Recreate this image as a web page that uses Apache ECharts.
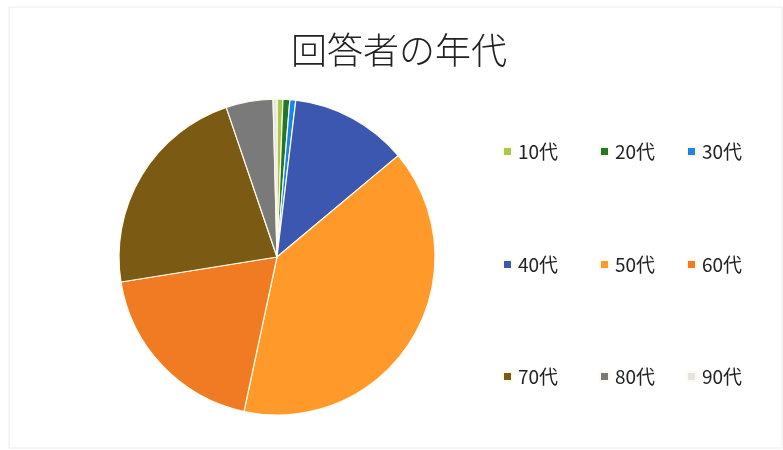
<!DOCTYPE html>
<html>
<head>
<meta charset="utf-8">
<script src="https://cdn.jsdelivr.net/npm/echarts@6/dist/echarts.min.js"></script>
<style>
html,body{margin:0;padding:0;background:#fff;}
#main{width:783px;height:450px;}
</style>
</head>
<body>
<div id="main"></div>
<script>
const titleText = '回答者の年代';
const categories = ['10代','20代','30代','40代','50代','60代','70代','80代','90代'];
const values = [0.6, 0.7, 0.6, 12.0, 39.4, 19.1, 22.3, 4.8, 0.4];
const colors = ['#a9c94e','#22782a','#1a85e6','#3b57b0','#ff9a2a','#f07b22','#7b5b14','#7a7a7a','#e4e4e4'];

const chart = echarts.init(document.getElementById('main'), null, {renderer:'canvas'});
const fontFam = '"Noto Sans CJK JP", "Noto Sans", sans-serif';
const rowTops = [142, 255, 367];
const colLefts = [502, 599, 686];
const legends = categories.map((c, i) => ({
  data: [c],
  orient: 'horizontal',
  left: colLefts[i % 3],
  top: rowTops[Math.floor(i / 3)],
  padding: 0,
  itemWidth: 9,
  itemHeight: 9,
  icon: 'rect',
  textStyle: {fontSize: 19, color: '#222', fontFamily: fontFam, padding: [0,0,0,1]},
  selectedMode: false
}));

chart.setOption({
  animation: false,
  color: colors,
  title: {
    text: titleText,
    left: 291,
    top: 32,
    padding: 0,
    textStyle: {fontSize: 36, fontWeight: 300, color: '#222', fontFamily: fontFam}
  },
  legend: legends,
  graphic: [{
    type: 'rect',
    shape: {x: 9, y: 7, width: 773, height: 441},
    style: {fill: 'none', stroke: '#ececec', lineWidth: 1},
    silent: true
  }],
  series: [{
    type: 'pie',
    center: [277, 257],
    radius: 158,
    startAngle: 90,
    clockwise: true,
    label: {show: false},
    labelLine: {show: false},
    itemStyle: {borderColor: '#fffbea', borderWidth: 1.2},
    emphasis: {disabled: true},
    data: categories.map((c, i) => ({name: c, value: values[i]}))
  }]
});
</script>
</body>
</html>
